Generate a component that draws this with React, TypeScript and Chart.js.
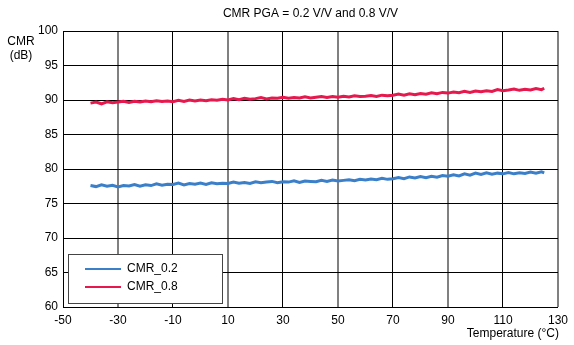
import React, { useEffect, useRef } from "react";
import { Chart, registerables } from "chart.js";

Chart.register(...registerables);

const temps = [
  -40, -38, -36, -34, -32, -30, -28, -26, -24, -22, -20, -18, -16, -14, -12, -10, -8, -6, -4, -2,
  0, 2, 4, 6, 8, 10, 12, 14, 16, 18, 20, 22, 24, 26, 28, 30, 32, 34, 36, 38,
  40, 42, 44, 46, 48, 50, 52, 54, 56, 58, 60, 62, 64, 66, 68, 70, 72, 74, 76, 78,
  80, 82, 84, 86, 88, 90, 92, 94, 96, 98, 100, 102, 104, 106, 108, 110, 112, 114, 116, 118,
  120, 122, 124, 125,
];

const cmr02 = [
  77.6, 77.45, 77.7, 77.5, 77.65, 77.4, 77.6, 77.55, 77.75, 77.5, 77.7, 77.6, 77.85, 77.65, 77.8, 77.75, 77.95, 77.7, 77.9, 77.8,
  77.95, 77.75, 78.0, 77.85, 77.95, 77.9, 78.1, 77.95, 78.05, 77.9, 78.15, 78.0, 78.1, 78.2, 78.0, 78.15, 78.1, 78.3, 78.05, 78.25,
  78.2, 78.15, 78.35, 78.2, 78.4, 78.25, 78.35, 78.45, 78.3, 78.5, 78.4, 78.55, 78.45, 78.65, 78.5, 78.6, 78.75, 78.6, 78.85, 78.7,
  78.9, 78.75, 78.95, 78.8, 79.05, 78.95, 79.15, 79.0, 79.3, 79.1, 79.4, 79.2, 79.45, 79.25, 79.4, 79.3, 79.5, 79.3, 79.45, 79.35,
  79.55, 79.4, 79.6, 79.45,
];

const cmr08 = [
  89.55, 89.7, 89.45, 89.75, 89.6, 89.7, 89.8, 89.65, 89.8, 89.7, 89.85, 89.75, 89.9, 89.8, 89.85, 89.75, 89.95, 89.8, 90.0, 89.85,
  90.0, 89.9, 90.05, 89.95, 90.1, 90.0, 90.2, 90.05, 90.25, 90.1, 90.2, 90.35, 90.15, 90.3, 90.25, 90.4, 90.25, 90.35, 90.3, 90.45,
  90.3, 90.4, 90.5, 90.35, 90.5, 90.4, 90.55, 90.45, 90.6, 90.5, 90.55, 90.65, 90.5, 90.7, 90.6, 90.7, 90.85, 90.7, 90.9, 90.75,
  90.95, 90.85, 91.05, 90.9, 91.1, 91.0, 91.15, 91.05, 91.25, 91.1, 91.3, 91.2, 91.35, 91.25, 91.5, 91.35, 91.45, 91.6, 91.4, 91.55,
  91.45, 91.65, 91.5, 91.7,
];

const seriesNames = ["CMR_0.2", "CMR_0.8"];
const seriesColors = ["#3b7fc9", "#e5194e"];
const titleText = "CMR PGA = 0.2 V/V and 0.8 V/V";
const xTitle = "Temperature (°C)";
const yTitleLines = ["CMR", "(dB)"];

const FONT = "Arial, 'Liberation Sans', sans-serif";

const textPlugin = {
  id: "texts",
  afterDraw(chart: any) {
    const ctx = chart.ctx;
    const ca = chart.chartArea;
    ctx.save();
    ctx.fillStyle = "#000";
    ctx.font = `12px ${FONT}`;
    ctx.textBaseline = "middle";
    ctx.textAlign = "center";
    ctx.fillText(titleText, (ca.left + ca.right) / 2, 14);
    ctx.fillText(yTitleLines[0], 21, 42);
    ctx.fillText(yTitleLines[1], 21, 56);
    ctx.textAlign = "right";
    ctx.fillText(xTitle, 559, 334);

    // legend box
    const bx = 68.5, by = 254.5, bw = 154, bh = 49;
    ctx.fillStyle = "#fff";
    ctx.fillRect(bx, by, bw, bh);
    ctx.strokeStyle = "#444";
    ctx.lineWidth = 1;
    ctx.strokeRect(bx, by, bw, bh);
    const rows = [269, 287];
    seriesNames.forEach((n, i) => {
      ctx.strokeStyle = seriesColors[i];
      ctx.lineWidth = 2;
      ctx.beginPath();
      ctx.moveTo(85, rows[i]);
      ctx.lineTo(121, rows[i]);
      ctx.stroke();
      ctx.fillStyle = "#000";
      ctx.textAlign = "left";
      ctx.fillText(n, 127, rows[i]);
    });
    ctx.restore();
  },
};

export default function App() {
  const ref = useRef<HTMLCanvasElement>(null);
  useEffect(() => {
    const chart = new Chart(ref.current!, {
      type: "line",
      data: {
        datasets: [
          {
            label: seriesNames[0],
            data: temps.map((t, i) => ({ x: t, y: cmr02[i] })),
            borderColor: seriesColors[0],
            borderWidth: 3,
            pointRadius: 0,
            tension: 0,
          },
          {
            label: seriesNames[1],
            data: temps.map((t, i) => ({ x: t, y: cmr08[i] })),
            borderColor: seriesColors[1],
            borderWidth: 3,
            pointRadius: 0,
            tension: 0,
          },
        ],
      },
      options: {
        animation: false,
        responsive: false,
        maintainAspectRatio: false,
        layout: { padding: { top: 31, right: 11, left: 0, bottom: 0 } },
        plugins: { legend: { display: false }, tooltip: { enabled: false }, title: { display: false } },
        scales: {
          x: {
            type: "linear",
            min: -50,
            max: 130,
            afterFit: (s: any) => { s.height = 38; },
            ticks: { stepSize: 20, color: "#000", font: { family: FONT, size: 12 }, padding: 6, maxRotation: 0 },
            grid: {
              drawTicks: false,
              color: (c: any) => (c.index % 2 === 1 ? "#808080" : "#000"),
              lineWidth: (c: any) => (c.index % 2 === 1 ? 2 : 1),
            },
            border: { color: "#000", width: 1 },
          },
          y: {
            min: 60,
            max: 100,
            afterFit: (s: any) => { s.width = 63; },
            ticks: { stepSize: 5, color: "#000", font: { family: FONT, size: 12 }, padding: 5 },
            grid: { drawTicks: false, color: "#000", lineWidth: 1 },
            border: { color: "#000", width: 1 },
          },
        },
      },
      plugins: [textPlugin],
    });
    return () => chart.destroy();
  }, []);
  return (
    <div style={{ position: "fixed", left: 0, top: 0, width: 574, height: 345, background: "#fff" }}>
      <canvas ref={ref} width={574} height={345} style={{ display: "block" }} />
    </div>
  );
}
